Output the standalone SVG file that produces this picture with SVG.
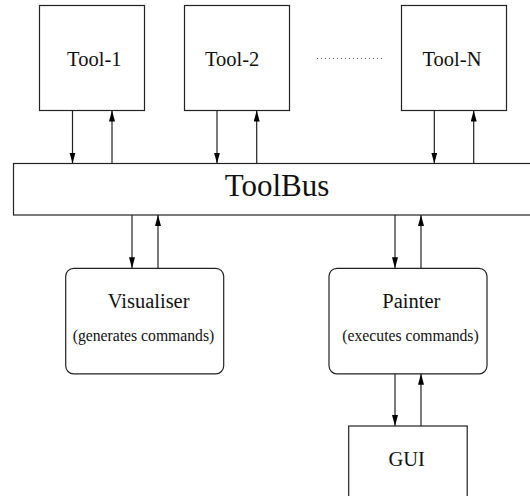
<svg xmlns="http://www.w3.org/2000/svg" width="530" height="496" viewBox="0 0 530 496">
<style>
.box{fill:#fff;stroke:#222;stroke-width:1.2}
.t{font-family:"Liberation Serif","Times New Roman",serif;fill:#111;text-anchor:middle}
.big{font-size:20.5px}
.bus{font-size:31px}
.sub{font-size:15.7px}
.c{stroke:#222;stroke-width:1.2;fill:none}
</style>
<defs>
<marker id="ah" markerUnits="userSpaceOnUse" markerWidth="12" markerHeight="8" refX="11" refY="3" orient="auto">
<path d="M0,0 L11,3 L0,6 Z" fill="#000"/>
</marker>
</defs>
<rect width="530" height="496" fill="#fff"/>
<g id="tool1"><rect class="box" x="39.5" y="5.5" width="105" height="105"/><text class="t big" x="94.3" y="65.7">Tool-1</text></g>
<g id="tool2"><rect class="box" x="184.5" y="5.5" width="105" height="105"/><text class="t big" x="232.2" y="65.7">Tool-2</text></g>
<g id="dots"><line x1="317" y1="58.5" x2="382" y2="58.5" stroke="#555" stroke-width="1" stroke-dasharray="1,3"/></g>
<g id="toolN"><rect class="box" x="401.5" y="5.5" width="105" height="105"/><text class="t big" x="452" y="65.7">Tool-N</text></g>
<g id="toolbus"><rect class="box" x="13.5" y="163.5" width="530" height="51.5"/><text class="t bus" x="277" y="196">ToolBus</text></g>
<g id="visualiser"><rect class="box" x="65.7" y="268.3" width="158" height="105.5" rx="8"/><text class="t big" x="148.6" y="308.3">Visualiser</text><text class="t sub" x="143.5" y="341">(generates commands)</text></g>
<g id="painter"><rect class="box" x="329" y="268.3" width="158" height="105.5" rx="8"/><text class="t big" x="411.3" y="308.3">Painter</text><text class="t sub" x="410.5" y="341">(executes commands)</text></g>
<g id="gui"><rect class="box" x="348.7" y="426" width="118.5" height="90"/><text class="t big" x="406.7" y="465.5">GUI</text></g>
<g id="connectors">
<line class="c" x1="72.5" y1="110.5" x2="72.5" y2="163.5" marker-end="url(#ah)"/>
<line class="c" x1="112" y1="163.5" x2="112" y2="110.5" marker-end="url(#ah)"/>
<line class="c" x1="217" y1="110.5" x2="217" y2="163.5" marker-end="url(#ah)"/>
<line class="c" x1="256.7" y1="163.5" x2="256.7" y2="110.5" marker-end="url(#ah)"/>
<line class="c" x1="434.3" y1="110.5" x2="434.3" y2="163.5" marker-end="url(#ah)"/>
<line class="c" x1="473.7" y1="163.5" x2="473.7" y2="110.5" marker-end="url(#ah)"/>
<line class="c" x1="132" y1="215" x2="132" y2="268.3" marker-end="url(#ah)"/>
<line class="c" x1="158" y1="268.3" x2="158" y2="215" marker-end="url(#ah)"/>
<line class="c" x1="395" y1="215" x2="395" y2="268.3" marker-end="url(#ah)"/>
<line class="c" x1="421" y1="268.3" x2="421" y2="215" marker-end="url(#ah)"/>
<line class="c" x1="395" y1="373.8" x2="395" y2="426" marker-end="url(#ah)"/>
<line class="c" x1="421" y1="426" x2="421" y2="373.8" marker-end="url(#ah)"/>
</g>
</svg>
